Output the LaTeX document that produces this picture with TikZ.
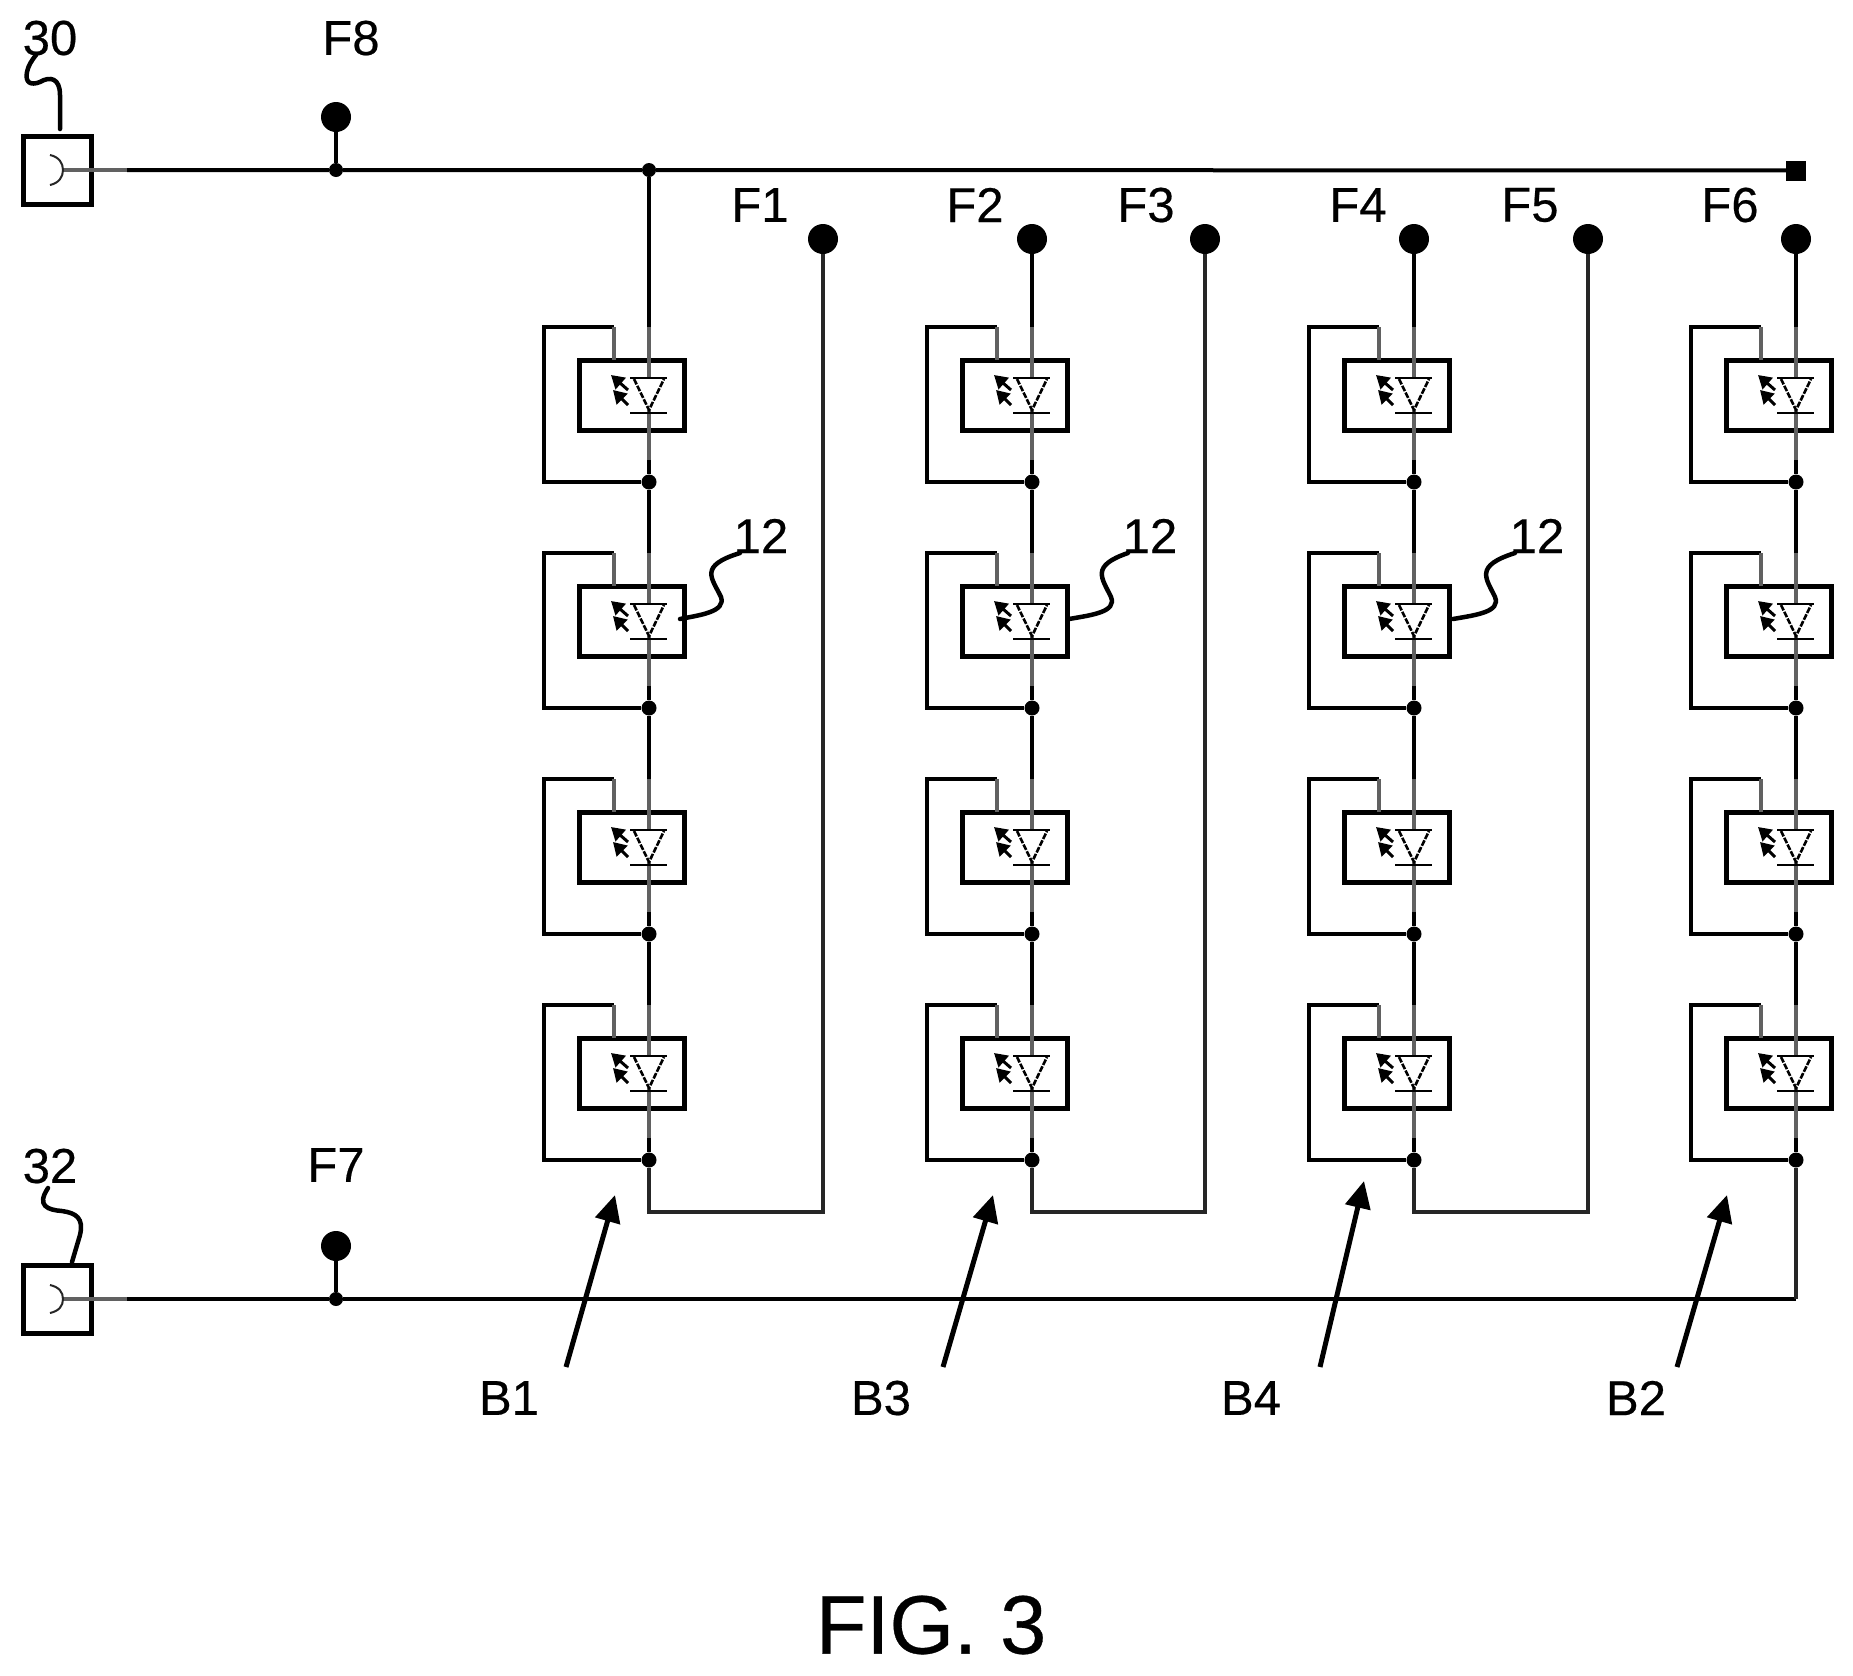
\documentclass[tikz,border=0pt]{standalone}
\usepackage{fontspec}
\setmainfont{Liberation Sans}
\newfontface\labfont{Liberation Sans}[FakeBold=0.4]
\usetikzlibrary{arrows.meta,calc}
\tikzset{
  x=1pt,y=-1pt,
  wire/.style={line width=4pt,black,line join=miter},
  softwire/.style={line width=4pt,black!62},
  stubwire/.style={line width=3.5pt,black!62},
  loopwire/.style={line width=4.5pt,black,line join=miter},
  feed/.style={line width=4pt,black!85,line join=miter},
  ledbox/.style={draw=black,line width=5pt,minimum width=105pt,minimum height=70pt,inner sep=0pt,rectangle},
  conbox/.style={draw=black,line width=5pt,minimum width=68pt,minimum height=68pt,inner sep=0pt,rectangle},
  bigdot/.style={circle,fill=black,minimum size=30pt,inner sep=0pt},
  smalldot/.style={circle,fill=black,minimum size=14pt,inner sep=0pt},
  endsq/.style={rectangle,fill=black,minimum size=20pt,inner sep=0pt},
  lab/.style={font=\labfont\fontsize{49pt}{49pt}\selectfont,inner sep=0pt,text=black},
  leader/.style={line width=4.5pt,black,line cap=round},
  blockarrow/.style={line width=5pt,black,-{Triangle[length=27pt,width=25pt]}},
  glyph/.style={line width=2.6pt,black,dash pattern=on 6pt off 1.5pt},
  ray/.style={line width=3pt,black,{Triangle[length=13pt,width=15pt]}-},
}
\begin{document}
\begin{tikzpicture}
\useasboundingbox (0,0) rectangle (1853,1676);

% top and bottom rails
\node[conbox] (c30) at (57,170) {};
\node[conbox] (c32) at (57,1299) {};
\coordinate (j30) at (63,170);
\coordinate (j32) at (63,1299);
\coordinate (g30) at (127,170);
\coordinate (g32) at (127,1299);
\node[smalldot] (s8) at (336,170) {};
\node[smalldot] (s7) at (336,1299) {};
\node[bigdot] (F8) at (336,117) {};
\node[bigdot] (F7) at (336,1246) {};
\node[smalldot] (top) at (649,170) {};
\node[endsq] (end) at (1796,170.5) {};
\coordinate (cornerB) at (1796,1299);
\draw[stubwire] (j30) -- (g30);
\draw[stubwire] (j32) -- (g32);
\draw[wire] (g30) -- (s8) -- (top) -- (end);
\draw[wire] (g32) -- (s7) -- (cornerB);
\draw[wire] (F8) -- (s8);
\draw[wire] (F7) -- (s7);
\draw[line width=2pt,black!85] (50,155) .. controls (59,157) and (63,163) .. (63,170) .. controls (63,177) and (59,183) .. (50,185);
\draw[line width=2pt,black!85] (50,1285) .. controls (59,1287) and (63,1292) .. (63,1299) .. controls (63,1306) and (59,1311) .. (50,1313);

% feed dots
\foreach \n/\x in {1/823,2/1032,3/1205,4/1414,5/1588,6/1796}{
  \node[bigdot] (F\n) at (\x,239) {};
}

% LED columns
\foreach \c/\x in {1/649,2/1032,3/1414,4/1796}{
  \foreach \r/\t in {1/360,2/586,3/812,4/1038}{
    \node[ledbox] (b\c-\r) at ({\x-17.5},{\t+35}) {};
    \node[smalldot,minimum size=15pt] (j\c-\r) at (\x,{\t+122}) {};
    \coordinate (lt\c-\r) at ({\x-105},{\t-33});
    \coordinate (tp\c-\r) at ({\x-35},\t);
    \coordinate (w\c-\r) at (\x,{\t-33});
    \coordinate (v\c-\r) at (\x,{\t+100});
    \coordinate (dt\c-\r) at (\x,{\t+18});
    \coordinate (da\c-\r) at (\x,{\t+50});
    \draw[loopwire] (j\c-\r) -| (lt\c-\r) -- ++(70,0) coordinate (lc\c-\r);
    \draw[softwire] (lc\c-\r) -- (tp\c-\r);
    \draw[softwire] (w\c-\r) -- (dt\c-\r);
    \draw[softwire] (da\c-\r) -- (v\c-\r);
    \draw[wire] (v\c-\r) -- (j\c-\r);
    % diode
    \draw[glyph] ({\x-15},{\t+19}) -- (da\c-\r) -- ({\x+15},{\t+19});
    \draw[line width=2.4pt,black] ({\x-19},{\t+18}) -- ({\x+18},{\t+18});
    \draw[line width=2.4pt,black] ({\x-19},{\t+53}) -- ({\x+18},{\t+53});
    \draw[ray] ({\x-38},{\t+15}) -- ({\x-21},{\t+30});
    \draw[ray] ({\x-36},{\t+30}) -- ({\x-21},{\t+45});
  }
  \draw[wire] (j\c-1) -- (w\c-2);
  \draw[wire] (j\c-2) -- (w\c-3);
  \draw[wire] (j\c-3) -- (w\c-4);
}
% column tops
\draw[wire] (top) -- (w1-1);
\draw[wire] (F2) -- (w2-1);
\draw[wire] (F4) -- (w3-1);
\draw[wire] (F6) -- (w4-1);
% returns
\coordinate (r1) at (649,1212);
\coordinate (r2) at (1032,1212);
\coordinate (r3) at (1414,1212);
\draw[feed] (j1-4) -- (r1) -- (r1 -| F1) -- (F1);
\draw[feed] (j2-4) -- (r2) -- (r2 -| F3) -- (F3);
\draw[feed] (j3-4) -- (r3) -- (r3 -| F5) -- (F5);
\draw[feed] (j4-4) -- (cornerB);

% labels
\node[lab] (t30) at (50,38) {30};
\node[lab] (t32) at (50,1166) {32};
\node[lab] (tF8) at (351,38) {F8};
\node[lab] (tF7) at (336,1165) {F7};
\node[lab] (tF1) at (760,205) {F1};
\node[lab] (tF2) at (975,205) {F2};
\node[lab] (tF3) at (1146,205) {F3};
\node[lab] (tF4) at (1358,205) {F4};
\node[lab] (tF5) at (1530,205) {F5};
\node[lab] (tF6) at (1730,205) {F6};
\node[lab] (t12a) at (761,536) {12};
\node[lab] (t12b) at (1150,536) {12};
\node[lab] (t12c) at (1537,536) {12};
\node[lab] (tB1) at (509,1398) {B1};
\node[lab] (tB3) at (881,1398) {B3};
\node[lab] (tB4) at (1251,1398) {B4};
\node[lab] (tB2) at (1636,1398) {B2};
\node[font=\labfont\fontsize{83pt}{83pt}\selectfont,inner sep=0pt] (fig) at (931,1625) {FIG. 3};

% leaders
\draw[leader] (60,129) -- (60,95) .. controls (60,78) and (50,76) .. (40,82) .. controls (30,86) and (25,82) .. (27,72) .. controls (28,66) and (32,60) .. (36,55);
\draw[leader] (72,1262) -- (80,1235) .. controls (84,1218) and (76,1213) .. (62,1211) .. controls (48,1210) and (36,1206) .. (48,1188);
\draw[leader] (680,619) .. controls (700,615) and (726,612) .. (721,597) .. controls (712,578) and (698,566) .. (740,553);
\draw[leader] (1069,619) .. controls (1092,615) and (1117,612) .. (1111,597) .. controls (1102,578) and (1090,566) .. (1128,553);
\draw[leader] (1453,619) .. controls (1476,615) and (1501,612) .. (1495,597) .. controls (1486,578) and (1474,566) .. (1515,553);

% block arrows
\coordinate (a1) at (566,1367); \coordinate (h1) at (615,1195);
\coordinate (a3) at (943,1367); \coordinate (h3) at (993,1195);
\coordinate (a4) at (1320,1367); \coordinate (h4) at (1364,1181);
\coordinate (a2) at (1677,1367); \coordinate (h2) at (1727,1195);
\draw[blockarrow] (a1) -- (h1);
\draw[blockarrow] (a3) -- (h3);
\draw[blockarrow] (a4) -- (h4);
\draw[blockarrow] (a2) -- (h2);
\end{tikzpicture}
\end{document}
